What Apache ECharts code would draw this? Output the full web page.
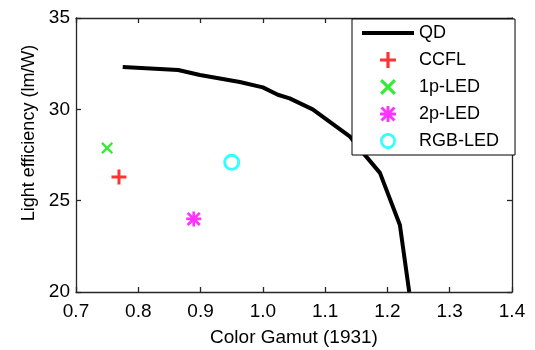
<!DOCTYPE html>
<html>
<head>
<meta charset="utf-8">
<script src="https://cdn.jsdelivr.net/npm/echarts@6/dist/echarts.min.js"></script>
<style>
  html, body { margin: 0; padding: 0; background: #fff; }
  #chart { width: 535px; height: 350px; }
</style>
</head>
<body>
<div id="chart"></div>
<script>
// QD curve
const qdGamut = [0.775, 0.864, 0.899, 0.963, 1.0, 1.024, 1.043, 1.08, 1.14, 1.165, 1.188, 1.22, 1.235]
const qdEfficiency = [32.32, 32.15, 31.88, 31.5, 31.2, 30.8, 30.6, 30.0, 28.5, 27.45, 26.52, 23.67, 20.0]

// single backlight points [gamut, efficiency]
const ccfl = [[0.769, 26.3]]
const led1p = [[0.75, 27.88]]
const led2p = [[0.889, 24.0]]
const ledRgb = [[0.95, 27.1]]

const xTicks = { min: 0.7, max: 1.4, step: 0.1 }
const yTicks = { min: 20, max: 35, step: 5 }

const FONT = 'Liberation Sans, Arial, sans-serif'
const AXIS_COLOR = '#262626'

const PLUS = 'path://M4,0H6V4H10V6H6V10H4V6H0V4H4Z'
const CROSS = 'path://M0,1.4L1.4,0L5,3.6L8.6,0L10,1.4L6.4,5L10,8.6L8.6,10L5,6.4L1.4,10L0,8.6L3.6,5Z'
const STAR = 'path://M4.1,0H5.9V10H4.1Z M0,4.1H10V5.9H0Z ' +
  'M1.6,0.3L9.7,8.4L8.4,9.7L0.3,1.6Z M8.4,0.3L9.7,1.6L1.6,9.7L0.3,8.4Z'
const RING = 'path://M10,0A10,10 0 1 1 9.99,0Z M10,3.4A6.6,6.6 0 1 0 10.01,3.4Z'
const BAR = 'path://M0,0H52V4H0Z'

const axisCommon = {
  axisLine: { show: true, lineStyle: { color: AXIS_COLOR, width: 1.3 } },
  axisTick: { show: true, inside: true, length: 5, lineStyle: { color: AXIS_COLOR, width: 1.3 } },
  splitLine: { show: false },
}

const chart = echarts.init(document.getElementById('chart'))

chart.setOption({
  animation: false,
  backgroundColor: '#fff',
  textStyle: { fontFamily: FONT },
  grid: { left: 76, right: 23, top: 18, bottom: 58, containLabel: false, outerBoundsMode: 'none' },
  xAxis: [
    {
      type: 'value',
      min: xTicks.min, max: xTicks.max, interval: xTicks.step,
      name: 'Color Gamut (1931)',
      nameLocation: 'middle',
      nameGap: 36,
      nameTextStyle: { fontSize: 19, color: '#000', fontFamily: FONT },
      axisLabel: {
        fontSize: 19, color: '#000', margin: 10, fontFamily: FONT,
        formatter: v => v.toFixed(1),
      },
      ...axisCommon,
    },
    {
      type: 'value', position: 'top',
      min: xTicks.min, max: xTicks.max, interval: xTicks.step,
      axisLabel: { show: false },
      ...axisCommon,
    },
  ],
  yAxis: [
    {
      type: 'value',
      min: yTicks.min, max: yTicks.max, interval: yTicks.step,
      name: 'Light efficiency (lm/W)',
      nameLocation: 'middle',
      nameGap: 38,
      nameTextStyle: { fontSize: 18, color: '#000', fontFamily: FONT, padding: [0, 0, 0, 44] },
      axisLabel: { fontSize: 19, color: '#000', margin: 6, fontFamily: FONT },
      ...axisCommon,
    },
    {
      type: 'value', position: 'right',
      min: yTicks.min, max: yTicks.max, interval: yTicks.step,
      axisLabel: { show: false },
      ...axisCommon,
    },
  ],
  legend: {
    orient: 'vertical',
    left: 352,
    top: 19,
    padding: [5, 16, 5, 10],
    itemWidth: 52,
    itemHeight: 16,
    itemGap: 9,
    backgroundColor: '#fff',
    borderColor: '#000',
    borderWidth: 1,
    borderRadius: 0,
    textStyle: { fontSize: 18, color: '#000', fontFamily: FONT },
    data: [
      { name: 'QD', icon: BAR },
      'CCFL', '1p-LED', '2p-LED', 'RGB-LED',
    ],
  },
  series: [
    {
      name: 'QD',
      type: 'line',
      data: qdGamut.map((x, i) => [x, qdEfficiency[i]]),
      showSymbol: false,
      symbol: 'none',
      lineStyle: { color: '#000', width: 4 },
      itemStyle: { color: '#000' },
    },
    {
      name: 'CCFL',
      type: 'scatter',
      data: ccfl,
      symbol: PLUS,
      symbolSize: 15,
      itemStyle: { color: '#ff0000' },
    },
    {
      name: '1p-LED',
      type: 'scatter',
      data: led1p,
      symbol: CROSS,
      symbolSize: 12,
      itemStyle: { color: '#00e600' },
    },
    {
      name: '2p-LED',
      type: 'scatter',
      data: led2p,
      symbol: STAR,
      symbolSize: 15,
      itemStyle: { color: '#ff00ff' },
    },
    {
      name: 'RGB-LED',
      type: 'scatter',
      data: ledRgb,
      symbol: RING,
      symbolSize: 17,
      itemStyle: { color: '#00ffff' },
    },
  ],
})
</script>
</body>
</html>
